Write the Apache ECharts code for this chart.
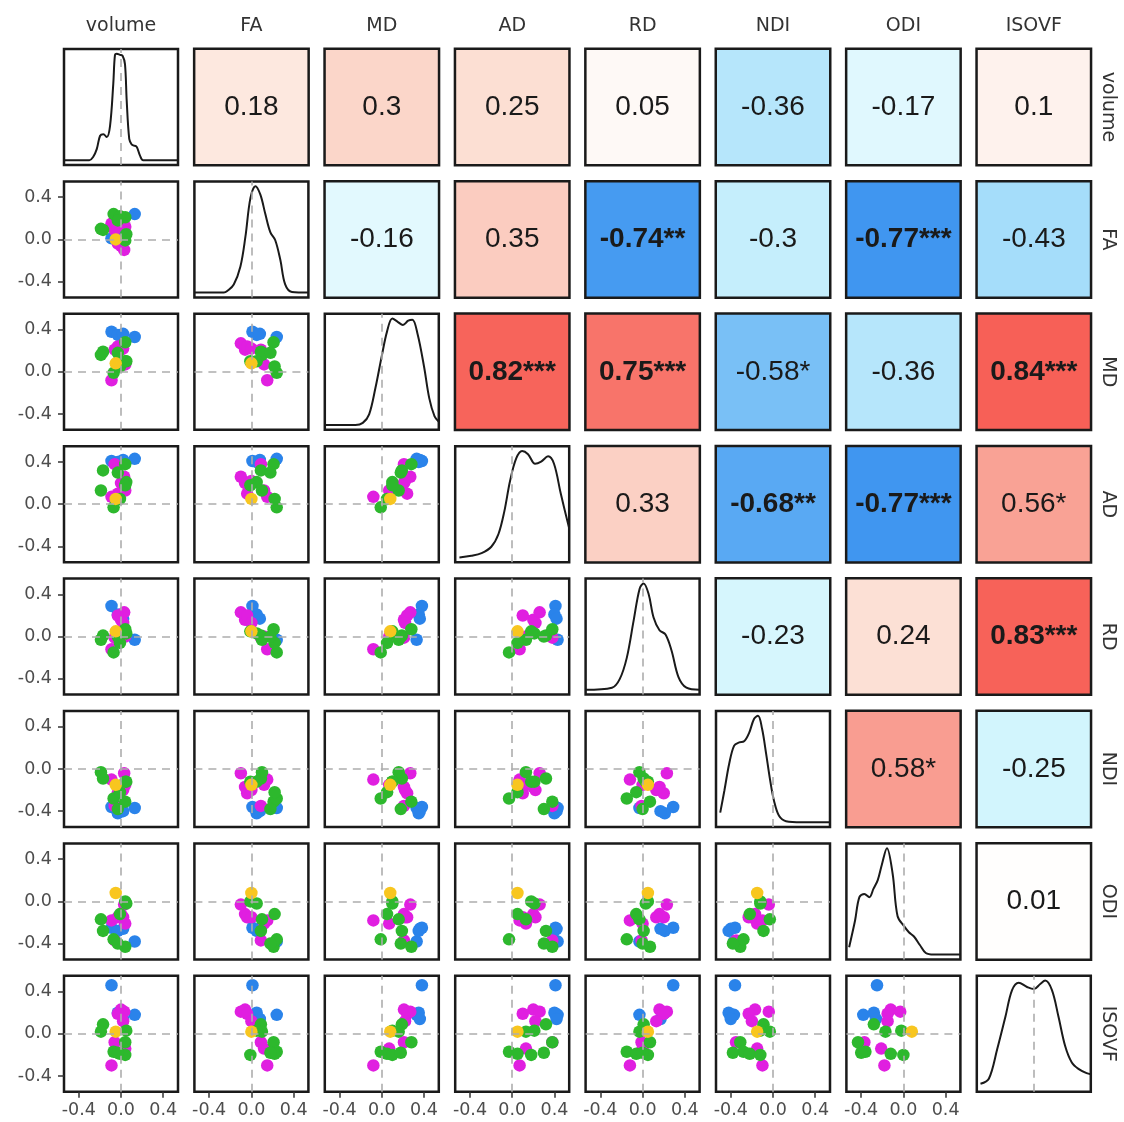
<!DOCTYPE html>
<html><head><meta charset="utf-8">
<script src="https://cdn.jsdelivr.net/npm/echarts@6/dist/echarts.min.js"></script>
<style>html,body{margin:0;padding:0;background:#fff}#c{width:1124px;height:1122px}</style>
</head><body><div id="c"></div><script>
const variables = ['volume','FA','MD','AD','RD','NDI','ODI','ISOVF'];
const tickValues = [-0.4, 0.0, 0.4];

// per-subject values (20 subjects)
const group  = ['blue','blue','blue','blue','magenta','magenta','magenta','magenta','magenta','magenta','magenta','green','green','green','green','green','green','green','green','gold'];
const volume = [-0.09, 0.13,-0.03, 0.02, 0.00, 0.03,-0.03, 0.02,-0.06, 0.04,-0.09,-0.17,-0.19, 0.05, 0.04,-0.07,-0.01, 0.04,-0.03,-0.05];
const FA     = [ 0.01, 0.24, 0.05, 0.08,-0.06,-0.10,-0.04, 0.00, 0.09, 0.12, 0.15, 0.09, 0.10, 0.05, 0.21, 0.24, 0.22,-0.01, 0.18, 0.00];
const MD     = [ 0.38, 0.33, 0.35, 0.36, 0.21, 0.27, 0.24, 0.22, 0.21, 0.07,-0.08, 0.19, 0.16, 0.10, 0.28,-0.01, 0.05, 0.10, 0.18, 0.08];
const AD     = [ 0.41, 0.43, 0.40, 0.42, 0.20, 0.26, 0.10, 0.22, 0.38, 0.13, 0.07, 0.32, 0.13, 0.21, 0.38,-0.03, 0.05, 0.18, 0.30, 0.05];
const RD     = [ 0.29,-0.03, 0.21, 0.17, 0.16, 0.23, 0.20, 0.13,-0.01, 0.00,-0.12, 0.01,-0.03, 0.03, 0.07,-0.15,-0.06, 0.05, 0.00, 0.05];
const NDI    = [-0.36,-0.37,-0.42,-0.40,-0.17,-0.04,-0.23,-0.20,-0.35,-0.15,-0.10,-0.09,-0.03,-0.12,-0.31,-0.28,-0.22,-0.12,-0.38,-0.15];
const ODI    = [-0.25,-0.38,-0.28,-0.26,-0.12,-0.03,-0.15,-0.15,-0.37,-0.21,-0.18,-0.28,-0.17,-0.02,-0.43,-0.36,-0.12, 0.00,-0.40, 0.08];
const ISOVF  = [ 0.46, 0.18, 0.20, 0.14, 0.23, 0.21, 0.19, 0.12,-0.08,-0.14,-0.30, 0.09, 0.02, 0.03,-0.08,-0.17,-0.19,-0.20,-0.18, 0.02];

// density curves: [value, relative density]
const densVolume = [[-0.54,0],[-0.3,0],[-0.264,0.03],[-0.229,0.107],[-0.198,0.23],[-0.167,0.245],[-0.135,0.217],[-0.104,0.32],[-0.073,0.72],[-0.057,0.99],[-0.04,1.0],[-0.01,0.99],[0.016,0.98],[0.038,0.9],[0.054,0.56],[0.078,0.2],[0.1,0.15],[0.116,0.14],[0.148,0.126],[0.179,0.046],[0.21,0.0],[0.54,0]];
const densFA = [[-0.54,0],[-0.26,0],[-0.229,0.015],[-0.167,0.077],[-0.104,0.246],[-0.057,0.523],[-0.009,0.89],[0.038,1.0],[0.085,0.92],[0.132,0.738],[0.179,0.568],[0.226,0.492],[0.274,0.308],[0.32,0.077],[0.384,0.006],[0.54,0]];
const densMD = [[-0.54,0.0],[-0.25,0.0],[-0.18,0.02],[-0.12,0.1],[-0.06,0.35],[0.0,0.65],[0.05,0.88],[0.1,1.0],[0.15,0.97],[0.2,0.94],[0.25,0.98],[0.29,0.99],[0.34,0.85],[0.4,0.55],[0.45,0.25],[0.5,0.08],[0.54,0.03]];
const densAD = [[-0.5,0.0],[-0.387,0.015],[-0.29,0.04],[-0.198,0.1],[-0.13,0.22],[-0.075,0.43],[-0.02,0.72],[0.038,0.93],[0.094,1.0],[0.15,0.97],[0.217,0.88],[0.274,0.9],[0.34,0.95],[0.396,0.88],[0.46,0.6],[0.538,0.28]];
const densRD = [[-0.54,0],[-0.29,0.02],[-0.217,0.1],[-0.15,0.3],[-0.085,0.65],[-0.028,0.95],[0.01,1.0],[0.057,0.9],[0.104,0.68],[0.16,0.56],[0.217,0.52],[0.274,0.37],[0.34,0.12],[0.415,0.02],[0.54,0]];
const densNDI = [[-0.5,0.09],[-0.46,0.3],[-0.415,0.55],[-0.368,0.72],[-0.32,0.75],[-0.274,0.76],[-0.226,0.84],[-0.18,0.97],[-0.142,1.0],[-0.104,0.88],[-0.066,0.65],[-0.028,0.4],[0.01,0.2],[0.057,0.06],[0.123,0.01],[0.27,0],[0.54,0]];
const densODI = [[-0.514,0.07],[-0.458,0.32],[-0.417,0.54],[-0.37,0.57],[-0.323,0.54],[-0.283,0.62],[-0.243,0.70],[-0.203,0.85],[-0.156,1.0],[-0.102,0.76],[-0.055,0.36],[0.008,0.265],[0.052,0.21],[0.1,0.17],[0.156,0.09],[0.212,0.015],[0.288,0],[0.54,0]];
const densISOVF = [[-0.505,0.03],[-0.426,0.078],[-0.347,0.355],[-0.269,0.66],[-0.206,0.91],[-0.143,0.98],[-0.064,0.94],[0.0,0.92],[0.061,0.968],[0.108,1.0],[0.172,0.91],[0.234,0.66],[0.297,0.385],[0.36,0.23],[0.423,0.17],[0.5,0.13],[0.54,0.12]];

// upper-triangle correlations, row by row
const corrValues = [0.18,0.3,0.25,0.05,-0.36,-0.17,0.1,
                    -0.16,0.35,-0.74,-0.3,-0.77,-0.43,
                    0.82,0.75,-0.58,-0.36,0.84,
                    0.33,-0.68,-0.77,0.56,
                    -0.23,0.24,0.83,
                    0.58,-0.25,
                    0.01];
const corrStars = ['','','','','','','',
                   '','','**','','***','',
                   '***','***','*','','***',
                   '','**','***','*',
                   '','','***',
                   '*','',
                   ''];

const subjVals = [volume, FA, MD, AD, RD, NDI, ODI, ISOVF];
const densities = [densVolume, densFA, densMD, densAD, densRD, densNDI, densODI, densISOVF];
const groupColor = {blue:'#2a83ea', magenta:'#e01fe0', green:'#2db82d', gold:'#f8c61f'};
const FONT = 'DejaVu Sans';
const CORR_FONT = 'Liberation Sans';

const grids = [], xAxes = [], yAxes = [], series = [], heatIdx = [];
const N = variables.length;
let corrK = 0;
const dashStyle = {color:'#adadad', width:1.6, type:[8,6]};

for (let r = 0; r < N; r++) {
  for (let c = 0; c < N; c++) {
    const gi = grids.length;
    const left = 64 + 130.4 * c, top = 49 + 132.4 * r;
    const upper = c > r;
    grids.push({left, top, width:114, height:116, show:!upper, borderColor:'#1a1a1a', borderWidth:2.5, backgroundColor:'#fff'});
    const showX = (r === N-1 && c < N-1);
    const showY = (c === 0 && r > 0);
    if (upper) {
      xAxes.push({gridIndex:gi, type:'category', data:['x'], show:false});
      yAxes.push({gridIndex:gi, type:'category', data:['y'], show:false});
      const v = corrValues[corrK], st = corrStars[corrK];
      const bold = st.length >= 2;
      heatIdx.push(series.length);
      series.push({type:'heatmap', xAxisIndex:gi, yAxisIndex:gi, silent:true,
        itemStyle:{borderColor:'#1a1a1a', borderWidth:2.5},
        label:{show:true, fontFamily:CORR_FONT, fontSize:28, color:'#1a1a1a',
               formatter:() => String(v) + st},
        emphasis:{disabled:true},
        data:[{value:[0,0,v], label:{fontWeight: bold ? 'bold' : 'normal'}}]});
      corrK++;
      continue;
    }
    xAxes.push({gridIndex:gi, type:'value', min:-0.54, max:0.54, position:'bottom',
      axisLine:{show:false, onZero:false}, splitLine:{show:false},
      axisTick:{show:showX, customValues:tickValues, length:6, lineStyle:{color:'#333', width:1.5}},
      axisLabel:{show:showX, customValues:tickValues, formatter:v => v.toFixed(1), fontFamily:FONT, fontSize:17.5, color:'#4d4d4d', margin:10}});
    if (c === r) {
      yAxes.push({gridIndex:gi, type:'value', min:-0.045, max:1.045, show:false, splitLine:{show:false}});
      series.push({type:'line', xAxisIndex:gi, yAxisIndex:gi, data:[], z:1, silent:true,
        markLine:{silent:true, symbol:'none', label:{show:false}, lineStyle:dashStyle, data:[{xAxis:0}]}});
      series.push({type:'line', xAxisIndex:gi, yAxisIndex:gi, data:densities[c], smooth:0.35,
        showSymbol:false, symbol:'none', silent:true, z:3, clip:true,
        lineStyle:{color:'#1a1a1a', width:2}});
    } else {
      yAxes.push({gridIndex:gi, type:'value', min:-0.55, max:0.55, position:'left',
        axisLine:{show:false, onZero:false}, splitLine:{show:false},
        axisTick:{show:showY, customValues:tickValues, length:6, lineStyle:{color:'#333', width:1.5}},
        axisLabel:{show:showY, customValues:tickValues, formatter:v => v.toFixed(1), fontFamily:FONT, fontSize:17.5, color:'#4d4d4d', margin:12}});
      series.push({type:'line', xAxisIndex:gi, yAxisIndex:gi, data:[], z:1, silent:true,
        markLine:{silent:true, symbol:'none', label:{show:false}, lineStyle:dashStyle, data:[{xAxis:0},{yAxis:0}]}});
      const xs = subjVals[c], ys = subjVals[r];
      series.push({type:'scatter', xAxisIndex:gi, yAxisIndex:gi, symbolSize:12.5, silent:true, z:3,
        data: xs.map((x, i) => ({value:[x, ys[i]], itemStyle:{color:groupColor[group[i]], opacity:1}}))});
    }
  }
}

const graphics = [];
variables.forEach((name, i) => {
  graphics.push({type:'text', x:121 + 130.4*i, y:26,
    style:{text:name, fontFamily:FONT, fontSize:19, fill:'#333', textAlign:'center', textVerticalAlign:'middle'}});
  graphics.push({type:'text', x:1108, y:107 + 132.4*i, rotation:-Math.PI/2,
    style:{text:name, fontFamily:FONT, fontSize:19, fill:'#333', textAlign:'center', textVerticalAlign:'middle'}});
});

const chart = echarts.init(document.getElementById('c'), null, {renderer:'canvas'});
chart.setOption({
  animation:false,
  backgroundColor:'#fff',
  grid:grids, xAxis:xAxes, yAxis:yAxes, series,
  visualMap:{type:'continuous', show:false, min:-1, max:1, dimension:2, seriesIndex:heatIdx,
    inRange:{color:['#1a72e6','#4399f1','#93d3f9','#d2f5fd','#ffffff','#fcdfd3','#f9b0a3','#f8746a','#f43c34']}},
  graphic:graphics
});
</script></body></html>
